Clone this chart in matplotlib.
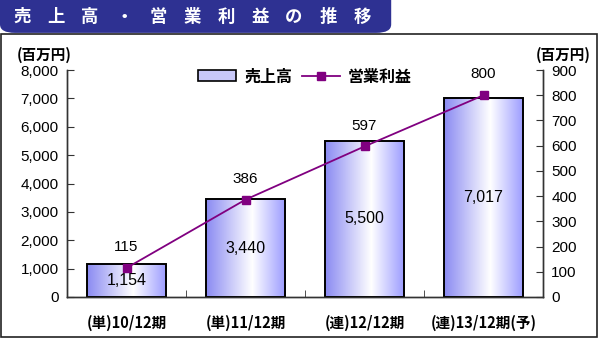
import matplotlib
matplotlib.use("Agg")
import matplotlib.pyplot as plt
from matplotlib import colors as mcolors
from matplotlib.patches import FancyBboxPatch, Rectangle
import numpy as np

plt.rcParams["font.family"] = ["Liberation Sans", "Noto Sans CJK JP", "DejaVu Sans"]

categories = ["(単)10/12期", "(単)11/12期", "(連)12/12期", "(連)13/12期(予)"]
sales = [1154, 3440, 5500, 7017]
profit = [115, 386, 597, 800]
sales_labels = ["1,154", "3,440", "5,500", "7,017"]
left_ticks = [0, 1000, 2000, 3000, 4000, 5000, 6000, 7000, 8000]
right_ticks = [0, 100, 200, 300, 400, 500, 600, 700, 800, 900]
title = "売上高・営業利益の推移"

JP = ["Noto Sans CJK JP", "DejaVu Sans"]

fig = plt.figure(figsize=(6.0, 3.39), dpi=100)
fig.patch.set_facecolor("white")

# header bar and frame
fig.patches.append(FancyBboxPatch((0.0, 0.903), 0.652, 0.14,
                                  boxstyle="round,pad=0,rounding_size=0.025",
                                  transform=fig.transFigure, facecolor="#2E3192",
                                  edgecolor="none", zorder=1))
fig.patches.append(Rectangle((0.002, 0.006), 0.993, 0.893, transform=fig.transFigure,
                             facecolor="none", edgecolor="#222222", lw=1.2, zorder=2))
for i, ch in enumerate(title):
    fig.text((22 + i * 34) / 600, 1 - 17 / 339, ch, color="white", fontsize=12.5,
             fontweight="bold", family=JP, ha="center", va="center")

ax = fig.add_axes([67 / 600, 42 / 339, 476 / 600, 227 / 339])
ax2 = ax.twinx()

x = np.arange(len(categories))
width = 0.67
grad_cmap = mcolors.LinearSegmentedColormap.from_list(
    "bar", [(0.0, "#8A8AF2"), (0.58, "#FFFFFF"), (1.0, "#9A9AFF")])
grad = np.linspace(0, 1, 256).reshape(1, -1)

bars = ax.bar(x, sales, width=width, facecolor="none", edgecolor="black", lw=1.4, zorder=3)
for b in bars:
    im = ax.imshow(grad, cmap=grad_cmap, aspect="auto", zorder=2,
                   extent=[b.get_x(), b.get_x() + b.get_width(), 0, b.get_height()])
    im.set_clip_path(b)

for xi, v, lab in zip(x, sales, sales_labels):
    ax.text(xi, v / 2, lab, ha="center", va="center", fontsize=11.5, zorder=4)

ax.set_xlim(-0.5, len(categories) - 0.5)
ax.set_ylim(0, 8000)
ax.set_yticks(left_ticks)
ax.set_yticklabels([f"{t:,}" for t in left_ticks], fontsize=11)
ax.set_xticks(x)
ax.set_xticklabels(categories, family=JP, fontsize=10.5, fontweight="bold")
ax.set_xticks(np.arange(0.5, len(categories) - 0.5, 1), minor=True)
ax.tick_params(axis="x", which="major", length=0, pad=13)
ax.tick_params(axis="x", which="minor", direction="in", length=5, color="#333333")
ax.tick_params(axis="y", direction="in", length=5, color="#333333", pad=6)

line, = ax2.plot(x, profit, color="#800080", lw=1.3, marker="s", ms=6,
                 markerfacecolor="#800080", markeredgecolor="#800080", zorder=5)
for xi, v in zip(x, profit):
    ax2.text(xi, v + 55, f"{v}", ha="center", va="bottom", fontsize=11)
ax2.set_ylim(0, 900)
ax2.set_yticks(right_ticks)
ax2.set_yticklabels([str(t) for t in right_ticks], fontsize=11)
ax2.tick_params(axis="y", direction="in", length=5, color="#333333", pad=6)

for a in (ax, ax2):
    a.spines["top"].set_visible(False)
    for s in ("left", "right", "bottom"):
        a.spines[s].set_color("#333333")
        a.spines[s].set_linewidth(1.0)
ax.patch.set_alpha(0)

fig.text(44 / 600, 1 - 55 / 339, "(百万円)", family=JP, fontsize=10.5,
         fontweight="bold", ha="center", va="center")
fig.text(563 / 600, 1 - 55 / 339, "(百万円)", family=JP, fontsize=10.5,
         fontweight="bold", ha="center", va="center")

bar_proxy = Rectangle((0, 0), 1, 1, facecolor="#C8C8F8", edgecolor="black", lw=1.2)
leg = ax2.legend([bar_proxy, line], ["売上高", "営業利益"], loc="upper center",
                 bbox_to_anchor=(0.5, 1.07), ncol=2, frameon=False,
                 prop={"family": JP, "size": 11.5, "weight": "bold"},
                 handlelength=2.4, columnspacing=0.6, handletextpad=0.5)

fig.savefig("out.png", dpi=100)
